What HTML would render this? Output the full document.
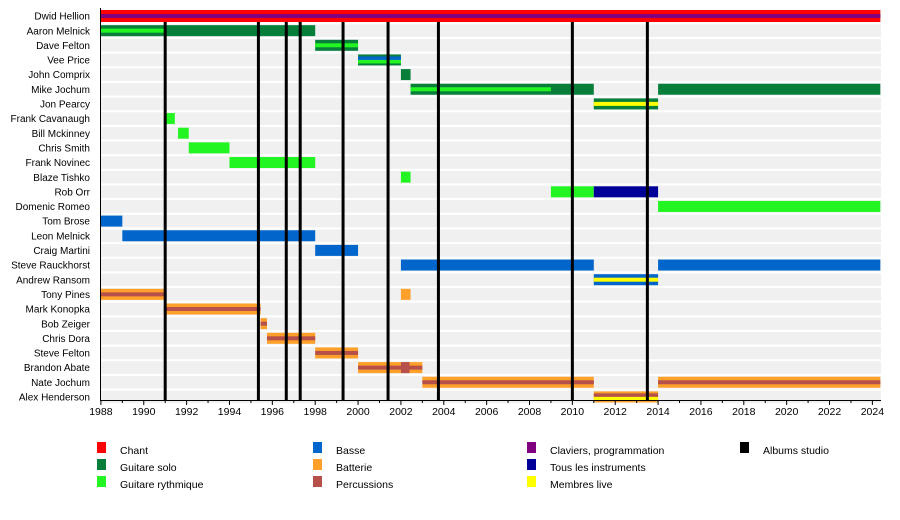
<!DOCTYPE html>
<html><head><meta charset="utf-8"><style>
body{margin:0;background:#fff;}
svg{display:block;font-family:"Liberation Sans",sans-serif;}
</style></head><body>
<svg id="s" width="900" height="520" xmlns="http://www.w3.org/2000/svg"></svg>
<script>
const X=y=>100.9+(y-1988)*21.43;
const E=2024.37;
const C={r:"#ff0000",p:"#800080",g:"#077f3a",l:"#22f522",b:"#0066cc",o:"#ffa02a",br:"#b5504a",n:"#000099",y:"#ffff00"};
const names=["Dwid Hellion","Aaron Melnick","Dave Felton","Vee Price","John Comprix","Mike Jochum","Jon Pearcy","Frank Cavanaugh","Bill Mckinney","Chris Smith","Frank Novinec","Blaze Tishko","Rob Orr","Domenic Romeo","Tom Brose","Leon Melnick","Craig Martini","Steve Rauckhorst","Andrew Ransom","Tony Pines","Mark Konopka","Bob Zeiger","Chris Dora","Steve Felton","Brandon Abate","Nate Jochum","Alex Henderson"];
const cy=i=>16+i*14.65;
const B=[
[0,1988,E,"r",["p"]],
[1,1988,1998,"g",[]],[1,1988,1991,null,["l"]],
[2,1998,2000,"g",["l"]],
[3,2000,2002,"g",["b","l"]],
[4,2002,2002.45,"g",[]],
[5,2002.45,2011,"g",[]],[5,2002.45,2009,null,["l"]],[5,2014,E,"g",[]],
[6,2011,2014,"g",["y"]],
[7,1991,1991.45,"l",[]],[8,1991.6,1992.1,"l",[]],[9,1992.1,1994,"l",[]],[10,1994,1998,"l",[]],
[11,2002,2002.45,"l",[]],
[12,2009,2011,"l",[]],[12,2011,2014,"n",[]],
[13,2014,E,"l",[]],
[14,1988,1989,"b",[]],[15,1989,1998,"b",[]],[16,1998,2000,"b",[]],
[17,2002,2011,"b",[]],[17,2014,E,"b",[]],
[18,2011,2014,"b",["y"]],
[19,1988,1991,"o",["br"]],[19,2002,2002.45,"o",[]],
[20,1991,1995.45,"o",["br"]],[21,1995.45,1995.75,"o",["br"]],[22,1995.75,1998,"o",["br"]],
[23,1998,2000,"o",["br"]],[24,2000,2003,"o",["br"]],[24,2002,2002.4,"br",[]],
[25,2003,2011,"o",["br"]],[25,2014,E,"o",["br"]],
[26,2011,2014,"o",["br","y"]]
];
let h='';
names.forEach((n,i)=>{const c=cy(i);
h+=`<rect x="101" y="${c-6.3}" width="780" height="12.6" fill="#f0f0f0"/>`;
h+=`<text x="90" y="${c+3.6}" font-size="10" text-anchor="end" fill="#000">${n}</text>`;});
B.forEach(([r,a,b,o,ins])=>{const c=cy(r),x=X(a),w=X(b)-x;const hh=r==0?12:11;
if(o)h+=`<rect x="${x}" y="${c-hh/2}" width="${w}" height="${hh}" fill="${C[o]}"/>`;
if(ins.length==1)h+=`<rect x="${x}" y="${c-2}" width="${w}" height="4" fill="${C[ins[0]]}"/>`;
if(ins.length==2){h+=`<rect x="${x}" y="${c-3.5}" width="${w}" height="3.5" fill="${C[ins[0]]}"/>`;h+=`<rect x="${x}" y="${c}" width="${w}" height="3.5" fill="${C[ins[1]]}"/>`;}
});
[1991,1995.35,1996.65,1997.3,1999.3,2001.4,2003.75,2010,2013.5].forEach(y=>{h+=`<rect x="${X(y)-1.5}" y="22" width="3" height="378" fill="#000"/>`;});
h+=`<rect x="100" y="8" width="1" height="393" fill="#000"/><rect x="100" y="400" width="781" height="1" fill="#000"/>`;
for(let y=1988;y<=2024;y++){const x=X(y);h+=`<rect x="${x-0.5}" y="400" width="1" height="${y%2?3:5}" fill="#000"/>`;
if(y%2==0)h+=`<text x="${x}" y="415" font-size="10.5" text-anchor="middle">${y}</text>`;}
const L=[[97,"r","Chant",0],[97,"g","Guitare solo",1],[97,"l","Guitare rythmique",2],[313,"b","Basse",0],[313,"o","Batterie",1],[313,"br","Percussions",2],[527,"p","Claviers, programmation",0],[527,"n","Tous les instruments",1],[527,"y","Membres live",2],[740,"k","Albums studio",0]];
L.forEach(([x,c,t,r])=>{const y=450+r*17;h+=`<rect x="${x}" y="${y-8}" width="9" height="11" fill="${c=='k'?'#000':C[c]}"/><text x="${x+23}" y="${y+4}" font-size="10.5">${t}</text>`;});
document.getElementById('s').innerHTML=h;
</script>
</body></html>
